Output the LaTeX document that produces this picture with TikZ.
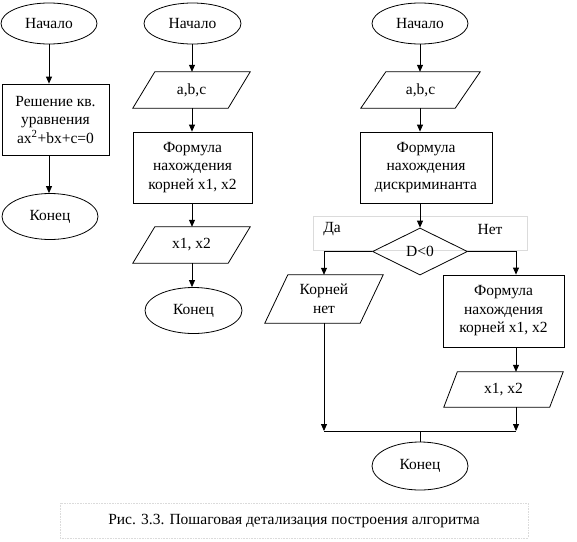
\documentclass[tikz,border=0pt]{standalone}
\usepackage{fontspec}
\setmainfont{Liberation Serif}
\usetikzlibrary{shapes.geometric,arrows.meta}
\tikzset{
  every node/.style={font=\fontsize{15.5}{18.5}\selectfont, align=center, inner sep=0pt},
  term/.style={draw, ellipse, line width=0.8pt},
  procbox/.style={draw, rectangle, line width=0.8pt},
  iobox/.style={rectangle},
  decbox/.style={draw, diamond, line width=0.8pt, aspect=2},
  conn/.style={line width=0.8pt},
  arr/.style={conn, -{Triangle[length=7pt,width=6pt]}},
  faint/.style={draw=black!14, line width=0.6pt}
}
\newcommand\paral[2]{\draw[line width=0.8pt] (#1.south west) -- ([xshift=-#2 pt]#1.south east) -- (#1.north east) -- ([xshift=#2 pt]#1.north west) -- cycle;}
\begin{document}
\begin{tikzpicture}[x=1pt,y=-1pt]
\useasboundingbox (0,0) rectangle (577,541);
\fill[white] (0,0) rectangle (577,541);
% faint text boxes
\draw[faint] (313,216) rectangle (527,250);
\draw[faint, densely dotted] (60,503) rectangle (528,538);

% ---------- column 1 ----------
\node[term, minimum width=96, minimum height=41] (s1) at (49,23.5) {Начало};
\node[procbox, minimum width=107, minimum height=71] (r1) at (55.5,119.5) {Решение кв.\\уравнения\\ax\textsuperscript{2}+bx+c=0};
\node[term, minimum width=96, minimum height=46] (e1) at (50,216.5) {Конец};
\draw[arr] (s1.south -| 49,0) -- (s1.south |- r1.north);
\draw[arr] (r1.south -| 49,0) -- (e1.north -| 49,0);

% ---------- column 2 ----------
\node[term, minimum width=97, minimum height=41] (s2) at (192.5,23.5) {Начало};
\node[iobox, minimum width=117, minimum height=36] (i2) at (191.5,90) {a,b,c};
\paral{i2}{22}
\node[procbox, minimum width=119, minimum height=71] (f2) at (192.5,167.5) {Формула\\нахождения\\корней x1, x2};
\node[iobox, minimum width=117, minimum height=36] (o2) at (191.5,245) {x1, x2};
\paral{o2}{22}
\node[term, minimum width=97, minimum height=46] (e2) at (193.5,310.5) {Конец};
\draw[arr] (s2.south -| 192,0) -- (i2.north -| 192,0);
\draw[arr] (i2.south -| 192,0) -- (f2.north -| 192,0);
\draw[arr] (f2.south -| 192,0) -- (o2.north -| 192,0);
\draw[arr] (o2.south -| 192,0) -- (e2.north -| 192,0);

% ---------- column 3 ----------
\node[term, minimum width=96, minimum height=41] (s3) at (420,23.5) {Начало};
\node[iobox, minimum width=119, minimum height=36] (i3) at (420.5,90) {a,b,c};
\paral{i3}{25}
\node[procbox, minimum width=132, minimum height=71] (f3) at (426,167.5) {Формула\\нахождения\\дискриминанта};
\node[decbox, minimum width=95, minimum height=47] (d3) at (420,251.5) {D<0};
\node (da) at (332,229) {Да};
\node (net) at (490,229) {Нет};
\node[iobox, minimum width=118, minimum height=48] (k3) at (324,299) {Корней\\нет};
\paral{k3}{23}
\node[procbox, minimum width=121, minimum height=72] (f4) at (503.5,311) {Формула\\нахождения\\корней x1, x2};
\node[iobox, minimum width=119, minimum height=35] (o4) at (503.5,389.5) {x1, x2};
\paral{o4}{13.5}
\node[term, minimum width=96, minimum height=48] (e3) at (420,466) {Конец};
\coordinate (mL) at (324,431);
\coordinate (mR) at (516,431);
\coordinate (mC) at (420,431);

\draw[arr] (s3.south) -- (s3.south |- i3.north);
\draw[arr] (i3.south -| s3.south) -- (s3.south |- f3.north);
\draw[arr] (f3.south -| d3.north) -- (d3.north);
\draw[arr] (d3.west) -| (k3.north);
\draw[arr] (d3.east) -| (mR |- f4.north);
\draw[arr] (mR |- f4.south) -- (mR |- o4.north);
\draw[arr] (mR |- o4.south) -- (mR);
\draw[arr] (k3.south) -- (mL);
\draw[conn] (mL) -- (mR);
\draw[conn] (mC) -- (e3.north);

% caption
\node (cap) at (294,521) {Рис. 3.3. Пошаговая детализация построения алгоритма};
\end{tikzpicture}
\end{document}
